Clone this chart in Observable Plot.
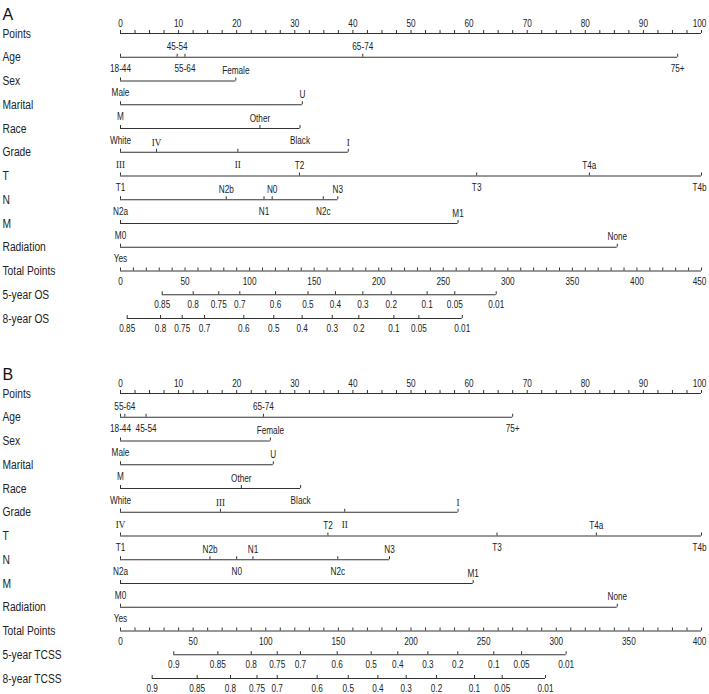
<!DOCTYPE html>
<html><head><meta charset="utf-8">
<script src="https://cdn.jsdelivr.net/npm/d3@7"></script>
<script src="https://cdn.jsdelivr.net/npm/@observablehq/plot@0.6"></script>
<style>
html,body{margin:0;padding:0;background:#fff;overflow:hidden;}
#wrap{width:709px;}
svg{display:block;max-width:none !important;}
</style></head><body><div id="wrap"></div>
<script>
// ---------- data ----------
const rowNamesA = ["Points","Age","Sex","Marital","Race","Grade","T","N","M","Radiation","Total Points","5-year OS","8-year OS"];
const rowNamesB = ["Points","Age","Sex","Marital","Race","Grade","T","N","M","Radiation","Total Points","5-year TCSS","8-year TCSS"];

const ageLevels = ["18-44","45-54","55-64","65-74","75+"];
const agePtsA = [0, 9.75, 11.1, 41.7, 95.9];
const agePtsB = [0, 4.4, 0.75, 24.6, 67.5];

const sexLevels = ["Male","Female"];
const sexPtsA = [0, 19.85];
const sexPtsB = [0, 25.8];

const maritalLevels = ["M","U"];
const maritalPtsA = [0, 31.3];
const maritalPtsB = [0, 26.3];

const raceLevels = ["White","Other","Black"];
const racePtsA = [0, 24.0, 30.9];
const racePtsB = [0, 20.8, 31.0];

const gradeLevels = ["I","II","III","IV"];
const gradePtsA = [39.2, 20.2, 0, 6.2];
const gradePtsB = [58.1, 38.6, 17.2, 0];

const tLevels = ["T1","T2","T3","T4a","T4b"];
const tPtsA = [0, 30.8, 61.3, 80.7, 100];
const tPtsB = [0, 35.7, 64.8, 81.9, 100];

const nLevels = ["N0","N1","N2a","N2b","N2c","N3"];
const nPtsA = [26.1, 24.7, 0, 18.2, 34.9, 37.4];
const nPtsB = [20.0, 22.8, 0, 15.4, 37.4, 46.3];

const mLevels = ["M0","M1"];
const mPtsA = [0, 58.1];
const mPtsB = [0, 60.7];

const radLevels = ["Yes","None"];
const radPtsA = [0, 85.5];
const radPtsB = [0, 85.5];

const maxTotalA = 450;
const maxTotalB = 400;

const osProbs = [0.85,0.8,0.75,0.7,0.6,0.5,0.4,0.3,0.2,0.1,0.05,0.01];
const os5Total = [32.3,56.3,76.1,92.4,120.1,145.2,166.5,187.7,209.7,237.5,258.9,291.0];
const os8Total = [5.2,31.0,47.8,65.1,95.5,118.7,140.7,164.0,184.6,211.7,231.1,264.7];

const tcssProbs = [0.9,0.85,0.8,0.75,0.7,0.6,0.5,0.4,0.3,0.2,0.1,0.05,0.01];
const tcss5Total = [36.7,67.0,90.0,107.9,123.9,149.2,172.6,190.9,211.6,232.2,257.0,276.1,306.8];
const tcss8Total = [21.8,52.8,75.7,94.0,107.9,135.4,156.8,177.2,196.7,217.6,243.7,262.8,292.6];

// ---------- build ----------
const ROW = 23.75, TOP = 33;
const INK = "#333";
const FONT = "Arial, 'Liberation Sans', sans-serif";
const NARROW = 0.82; // the reference lettering is horizontally condensed

function panel(letter, rows, vars, maxTotal, probRows, height) {
  const k = 100 / maxTotal;
  const lines = [], ticks = [], labels = [];
  lines.push({row: "Points", x1: 0, x2: 100});
  d3.range(0, 100.001, 2.5).forEach(x => ticks.push({row: "Points", x}));
  d3.range(0, 101, 10).forEach(x => labels.push({row: "Points", x, label: String(x), pos: "above"}));
  vars.forEach(v => {
    const items = v.levels.map((l, i) => ({row: v.name, label: l, x: v.pts[i]}));
    items.sort((a, b) => a.x - b.x);
    items.forEach((d, i) => { d.pos = i % 2 === 0 ? "below" : "above"; });
    lines.push({row: v.name, x1: d3.min(items, d => d.x), x2: d3.max(items, d => d.x)});
    items.forEach(d => { ticks.push(d); labels.push(d); });
  });
  lines.push({row: "Total Points", x1: 0, x2: 100});
  d3.range(0, maxTotal + 0.001, 10).forEach(t => ticks.push({row: "Total Points", x: t * k}));
  d3.range(0, maxTotal + 1, 50).forEach(t => labels.push({row: "Total Points", x: t * k, label: String(t), pos: "axis"}));
  probRows.forEach(p => {
    const xs = p.total.map(t => t * k);
    lines.push({row: p.name, x1: d3.min(xs), x2: d3.max(xs)});
    p.probs.forEach((pr, i) => {
      const d = {row: p.name, x: xs[i], label: String(pr), pos: "axis"};
      ticks.push(d); labels.push(d);
    });
  });
  const isGrade = d => d.row === "Grade";
  const atEnd = d => d.x >= 99.9;
  const dyOf = {above: -10, below: 12, axis: 10.5};
  const serif = "'Liberation Serif', 'DejaVu Serif', serif";
  const textMarks = [];
  for (const pos of ["above", "below", "axis"]) {
    textMarks.push(Plot.text(labels.filter(d => d.pos === pos && !isGrade(d) && !atEnd(d)), {x: "x", y: "row", text: "label", dy: dyOf[pos], fill: "#222", className: "narrow"}));
    textMarks.push(Plot.text(labels.filter(d => d.pos === pos && !isGrade(d) && atEnd(d)), {x: "x", y: "row", text: "label", dy: dyOf[pos], dx: -2, fill: "#222", className: "narrow"}));
    textMarks.push(Plot.text(labels.filter(d => d.pos === pos && isGrade(d)), {x: "x", y: "row", text: "label", dy: dyOf[pos], fill: "#222", fontFamily: serif, fontSize: 11, className: "narrow"}));
  }
  const chart = Plot.plot({
    width: 709,
    height,
    marginLeft: 120,
    marginRight: 8,
    marginTop: TOP,
    marginBottom: height - TOP - (rows.length - 1) * ROW,
    x: {domain: [0, 100], axis: null},
    y: {type: "point", domain: rows, padding: 0, round: false, axis: null},
    style: {fontFamily: FONT, fontSize: "10px", color: "#222", background: "#fff"},
    marks: [
      Plot.ruleY(lines, {y: "row", x1: "x1", x2: "x2", stroke: INK, strokeWidth: 1}),
      Plot.ruleX(ticks, {x: "x", y1: "row", y2: "row", insetTop: -3, stroke: INK, strokeWidth: 1}),
      ...textMarks,
      Plot.text(rows, {y: d => d, text: d => d, frameAnchor: "left", textAnchor: "start", dx: -118, fontSize: 12.5, fill: "#222", className: "narrow"}),
      Plot.text([letter], {text: d => d, frameAnchor: "top-left", textAnchor: "start", dx: -118, dy: -25, fontSize: 16, fill: "#111"})
    ]
  });
  document.getElementById("wrap").appendChild(chart);
  // condense lettering horizontally, like the reference
  chart.querySelectorAll("g.narrow text").forEach(t => {
    const len = t.getComputedTextLength();
    if (len > 0) {
      t.setAttribute("textLength", (len * NARROW).toFixed(2));
      t.setAttribute("lengthAdjust", "spacingAndGlyphs");
    }
  });
}

panel("A", rowNamesA, [
  {name: "Age", levels: ageLevels, pts: agePtsA},
  {name: "Sex", levels: sexLevels, pts: sexPtsA},
  {name: "Marital", levels: maritalLevels, pts: maritalPtsA},
  {name: "Race", levels: raceLevels, pts: racePtsA},
  {name: "Grade", levels: gradeLevels, pts: gradePtsA},
  {name: "T", levels: tLevels, pts: tPtsA},
  {name: "N", levels: nLevels, pts: nPtsA},
  {name: "M", levels: mLevels, pts: mPtsA},
  {name: "Radiation", levels: radLevels, pts: radPtsA}
], maxTotalA, [
  {name: "5-year OS", probs: osProbs, total: os5Total},
  {name: "8-year OS", probs: osProbs, total: os8Total}
], 360);

panel("B", rowNamesB, [
  {name: "Age", levels: ageLevels, pts: agePtsB},
  {name: "Sex", levels: sexLevels, pts: sexPtsB},
  {name: "Marital", levels: maritalLevels, pts: maritalPtsB},
  {name: "Race", levels: raceLevels, pts: racePtsB},
  {name: "Grade", levels: gradeLevels, pts: gradePtsB},
  {name: "T", levels: tLevels, pts: tPtsB},
  {name: "N", levels: nLevels, pts: nPtsB},
  {name: "M", levels: mLevels, pts: mPtsB},
  {name: "Radiation", levels: radLevels, pts: radPtsB}
], maxTotalB, [
  {name: "5-year TCSS", probs: tcssProbs, total: tcss5Total},
  {name: "8-year TCSS", probs: tcssProbs, total: tcss8Total}
], 334);
</script></body></html>
